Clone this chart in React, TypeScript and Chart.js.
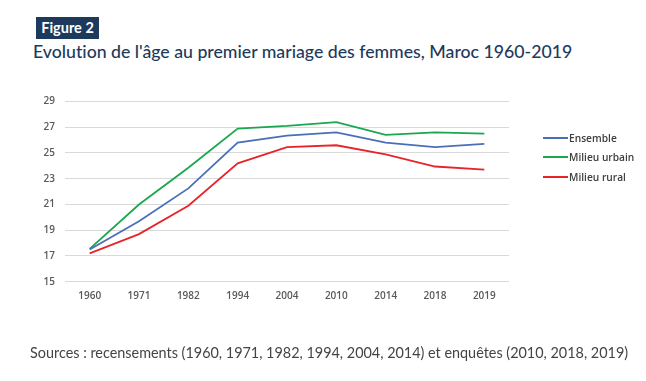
import React, { useEffect, useRef } from "react";
import { Chart, registerables } from "chart.js";

Chart.register(...registerables);

const years = ["1960", "1971", "1982", "1994", "2004", "2010", "2014", "2018", "2019"];
const ensemble = [17.5, 19.7, 22.25, 25.8, 26.35, 26.6, 25.8, 25.45, 25.7];
const urbain = [17.55, 21.0, 23.85, 26.9, 27.1, 27.4, 26.4, 26.6, 26.5];
const rural = [17.2, 18.7, 20.9, 24.2, 25.45, 25.6, 24.9, 23.95, 23.7];
const seriesNames = ["Ensemble", "Milieu urbain", "Milieu rural"];
const seriesColors = ["#4a6fb8", "#1aa84f", "#e8242b"];

const titleText = "Evolution de l'âge au premier mariage des femmes, Maroc 1960-2019";
const badgeText = "Figure 2";
const sourceText = "Sources : recensements (1960, 1971, 1982, 1994, 2004, 2014) et enquêtes (2010, 2018, 2019)";

export default function App() {
  const ref = useRef<HTMLCanvasElement | null>(null);
  useEffect(() => {
    if (!ref.current) return;
    const chart = new Chart(ref.current, {
      type: "line",
      data: {
        labels: years,
        datasets: [ensemble, urbain, rural].map((d, i) => ({
          label: seriesNames[i],
          data: d,
          borderColor: seriesColors[i],
          backgroundColor: seriesColors[i],
          borderWidth: 1.8,
          pointRadius: 0,
          tension: 0,
          fill: false,
        })),
      },
      options: {
        animation: false,
        responsive: false,
        maintainAspectRatio: false,
        layout: { padding: { left: 0, top: 101.5, right: 137, bottom: 0 } },
        plugins: { legend: { display: false }, tooltip: { enabled: false } },
        scales: {
          x: {
            offset: true,
            grid: { display: false, drawTicks: false },
            border: { display: false },
            ticks: {
              padding: 8,
              color: "#595959",
              font: { family: "'Open Sans', sans-serif", size: 10, weight: 600 },
              maxRotation: 0,
            },
            afterFit: (s: any) => { s.height = 99.3; },
          },
          y: {
            min: 15,
            max: 29,
            grid: { color: "#d9d9d9", lineWidth: 1, drawTicks: false },
            border: { display: false },
            ticks: {
              stepSize: 2,
              padding: 10,
              color: "#595959",
              font: { family: "'Open Sans', sans-serif", size: 10, weight: 600 },
            },
            afterFit: (s: any) => { s.width = 65; },
          },
        },
      },
    });
    return () => chart.destroy();
  }, []);

  return (
    <div style={{ position: "fixed", left: 0, top: 0, width: 646, height: 381, background: "#fff", overflow: "hidden" }}>
      <div style={{
        position: "absolute", left: 36, top: 17, width: 63, height: 22, background: "#1d3a5c",
        color: "#fff", fontFamily: "Lato, sans-serif", fontWeight: 700, fontSize: 14.5,
        lineHeight: "22px", textAlign: "center",
      }}>{badgeText}</div>
      <div style={{
        position: "absolute", left: 33, top: 40, whiteSpace: "nowrap", color: "#1d3a5c",
        fontFamily: "Lato, sans-serif", fontSize: 17.7, lineHeight: "24px", fontWeight: 500,
        fontVariantLigatures: "none",
      }}>{titleText}</div>
      <canvas ref={ref} width={646} height={381} style={{ position: "absolute", left: 0, top: 0 }} />
      {seriesNames.map((n, i) => (
        <div key={n} style={{ position: "absolute", left: 543, top: [138, 157, 177][i] - 7, height: 14, display: "flex", alignItems: "center" }}>
          <div style={{ width: 25, height: 2, background: seriesColors[i] }} />
          <span style={{ marginLeft: 1, fontFamily: "'Open Sans', sans-serif", fontSize: 10.2, color: "#404040", fontWeight: 600 }}>{n}</span>
        </div>
      ))}
      <div style={{
        position: "absolute", left: 30, top: 344, whiteSpace: "nowrap", color: "#444",
        fontFamily: "Lato, sans-serif", fontSize: 14.4, lineHeight: "18px",
        fontVariantLigatures: "none",
      }}>{sourceText}</div>
    </div>
  );
}
